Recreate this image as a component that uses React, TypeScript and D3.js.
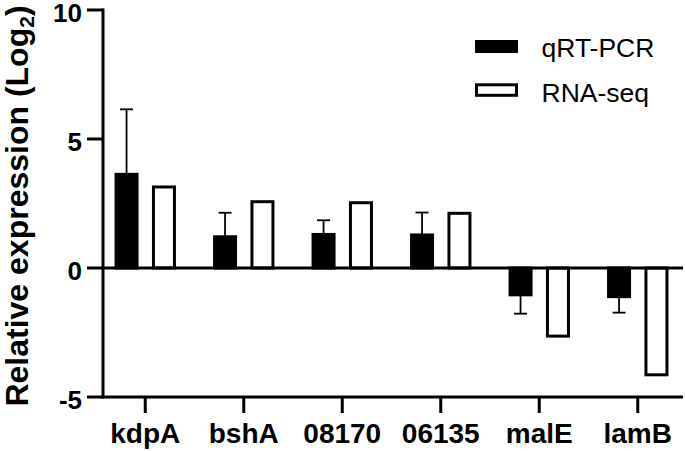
import React from "react";
import * as d3 from "d3";

const categories = ["kdpA", "bshA", "08170", "06135", "malE", "lamB"];
const qrtValues = [3.63, 1.21, 1.3, 1.28, -1.04, -1.11];
const qrtErrors = [2.52, 0.93, 0.55, 0.87, 0.73, 0.62];
const rnaValues = [3.14, 2.57, 2.53, 2.12, -2.64, -4.14];
const yTicks = [-5, 0, 5, 10];
const seriesNames = ["qRT-PCR", "RNA-seq"];

const W = 685;
const H = 451;
const FONT = "'Liberation Sans', Arial, Helvetica, sans-serif";

export default function App() {
  const x = d3.scaleBand<string>().domain(categories).range([96, 687]).padding(0);
  const y = d3.scaleLinear().domain([-5, 10]).range([397, 10]);
  const axisX = 103;
  const axisBottom = y(-5);
  const axisRight = 683;
  const barW = 21;
  const off = 18.7;
  const stroke = 3;

  const center = (c: string) => (x(c) as number) + x.bandwidth() / 2;

  return (
    <svg
      width={W}
      height={H}
      style={{ position: "absolute", left: 0, top: 0, background: "#fff" }}
      fontFamily={FONT}
    >
      {/* bars: qRT-PCR */}
      {categories.map((c, i) => {
        const v = qrtValues[i];
        const cx = center(c) - off;
        const y0 = y(0);
        const y1 = y(v);
        const e = qrtErrors[i];
        const ye = y(v + (v >= 0 ? e : -e));
        return (
          <g key={"q" + c}>
            <line x1={cx} x2={cx} y1={y1} y2={ye} stroke="#000" strokeWidth={1.8} />
            <line x1={cx - 6.5} x2={cx + 6.5} y1={ye} y2={ye} stroke="#000" strokeWidth={1.8} />
            <rect
              x={cx - barW / 2}
              y={Math.min(y0, y1)}
              width={barW}
              height={Math.abs(y1 - y0)}
              fill="#000"
              stroke="#000"
              strokeWidth={stroke}
            />
          </g>
        );
      })}
      {/* bars: RNA-seq */}
      {categories.map((c, i) => {
        const v = rnaValues[i];
        const cx = center(c) + off;
        const y0 = y(0);
        const y1 = y(v);
        return (
          <rect
            key={"r" + c}
            x={cx - barW / 2}
            y={Math.min(y0, y1)}
            width={barW}
            height={Math.abs(y1 - y0)}
            fill="#fff"
            stroke="#000"
            strokeWidth={stroke}
          />
        );
      })}
      {/* zero line */}
      <line x1={axisX} x2={axisRight} y1={y(0)} y2={y(0)} stroke="#000" strokeWidth={3.2} />
      {/* y axis */}
      <line x1={axisX} x2={axisX} y1={y(10) - 1.5} y2={axisBottom + 1.5} stroke="#000" strokeWidth={3} />
      {yTicks.map((t) => (
        <g key={"yt" + t}>
          <line x1={axisX - 16} x2={axisX} y1={y(t)} y2={y(t)} stroke="#000" strokeWidth={3} />
          <text
            x={82}
            y={y(t)}
            dy="0.45em"
            textAnchor="end"
            fontSize={26}
            fontWeight="bold"
            fill="#000"
          >
            {t}
          </text>
        </g>
      ))}
      {/* x axis */}
      <line x1={axisX - 1.5} x2={axisRight} y1={axisBottom} y2={axisBottom} stroke="#000" strokeWidth={3} />
      {categories.map((c) => (
        <g key={"xt" + c}>
          <line x1={center(c)} x2={center(c)} y1={axisBottom} y2={axisBottom + 16} stroke="#000" strokeWidth={3} />
          <text
            x={center(c)}
            y={443}
            textAnchor="middle"
            fontSize={28}
            fontWeight="bold"
            fill="#000"
          >
            {c}
          </text>
        </g>
      ))}
      {/* y label */}
      <text
        transform="translate(28,206) rotate(-90)"
        textAnchor="middle"
        fontSize={32}
        fontWeight="bold"
        fill="#000"
      >
        Relative expression (Log
        <tspan fontSize={21} dy={6}>2</tspan>
        <tspan dy={-6}>)</tspan>
      </text>
      {/* legend */}
      <rect x={475} y={40} width={43} height={13} fill="#000" />
      <text x={541.5} y={56.5} fontSize={26.5} fill="#000">{seriesNames[0]}</text>
      <rect x={476.5} y={84.8} width={40} height={10.5} fill="#fff" stroke="#000" strokeWidth={3} />
      <text x={541.5} y={101.5} fontSize={26.5} fill="#000">{seriesNames[1]}</text>
    </svg>
  );
}
